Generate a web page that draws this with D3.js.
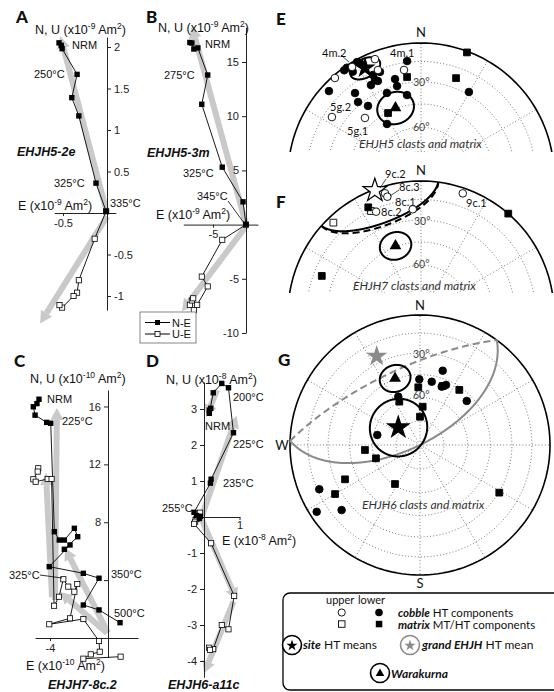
<!DOCTYPE html>
<html><head><meta charset="utf-8">
<script src="https://cdnjs.cloudflare.com/ajax/libs/d3/7.8.5/d3.min.js"></script>
<style>body{margin:0;background:#fff}svg{display:block}</style>
</head><body>
<script>
// ================= DATA =================
// Zijderveld diagrams: [E, N] for N-E (filled), [E, U] for U-E (open)
const aNE = [[-0.545,2.05],[-0.52,2.02],[-0.51,1.98],[-0.34,1.67],[-0.40,1.39],[-0.32,1.17],[-0.125,0.36],[-0.01,0.02]];
const aUE = [[-0.01,0.02],[-0.14,-0.31],[-0.32,-0.81],[-0.34,-0.96],[-0.38,-1.0],[-0.51,-1.14],[-0.54,-1.11]];
const aFits = [[[0,0],[-0.53,2.13]],[[0,-0.04],[-0.76,-1.33]]];
const aYTicks = [2,1.5,1,0.5,-0.5,-1], aXTicks = [-0.5];

const bNE = [[-8.5,16.8],[-8.2,16.75],[-7.9,16.2],[-7.3,16.3],[-5.8,13.8],[-6.7,11.1],[-3.6,5.3],[-0.45,2.1],[0,0]];
const bUE = [[0,0],[-3.6,-1.4],[-6.7,-4.8],[-5.8,-5.7],[-7.4,-7.4],[-7.9,-7.9],[-8.5,-7.4],[-8.2,-7.0],[-8.0,-6.8]];
const bFits = [[[0,0],[-8.2,18.3]],[[0,-0.15],[-9.7,-8.0]]];
const bYTicks = [15,10,5,-5,-10], bXTicks = [-5];

const cNE = [[-4.76,16.5],[-4.9,16.2],[-5.15,15.98],[-5.03,15.4],[-4.23,14.9],[-3.95,14.84],
  [-3.70,7.35],[-3.36,6.77],[-3.01,6.77],[-2.32,7.58],[-2.09,7.0],[-3.01,6.13],[-2.62,6.43],
  [-4.05,4.93],[-1.70,4.47],[-0.62,4.13],[-1.70,2.28],[-0.62,1.94],[0.83,1.06]];
const cUE = [[-4.81,11.73],[-4.85,11.5],[-5.15,10.97],[-4.99,10.8],[-4.16,10.99],[-3.89,10.99],
  [-3.72,2.23],[-3.38,2.85],[-3.08,4.06],[-2.74,3.55],[-2.32,3.20],[-2.12,3.73],[-2.62,1.36],
  [-4.05,0.95],[-1.70,1.31],[-0.62,-0.21],[-0.57,-0.95],[-1.19,-1.13],[-1.70,-1.43],[0.87,-1.29]];
const cFits = [[[-3.66,2.63],[-3.52,15.9]],[[-3.86,2.83],[-4.28,11.4]],[[0,0.35],[-2.97,6.22]],[[-0.07,0.35],[-3.31,3.18]]];
const cYTicks = [16,12,8,4], cXTicks = [-4];

const dNE = [[0.15,2.97],[0.19,3.02],[0.15,2.88],[0.26,3.45],[0.50,3.71],[0.69,3.59],[0.83,2.34],
  [0.20,1.05],[0.18,0.94],[-0.28,0.13],[-0.21,0.04],[-0.13,-0.04],[-0.10,0.02]];
const dUE = [[-0.11,0.12],[-0.21,-0.06],[-0.25,-0.13],[-0.28,-0.19],[0.20,-0.73],[0.85,-2.19],
  [0.69,-3.12],[0.50,-3.0],[0.26,-3.67],[0.14,-3.63],[0.17,-3.69]];
const dFits = [[[0.37,3.53],[0.06,2.78]],[[-0.065,0.01],[0.92,2.81]],[[-0.065,-0.06],[0.92,-2.31]],[[0.83,-2.35],[0,-4.34]]];
const dYTicks = [3,2,1,-1,-2,-3,-4], dXTicks = [1];

// Stereonets: [declination, inclination] (negative inclination = upper hemisphere)
const eCobble = [[330.7,2],[325.6,1.5],[324,2],[326.8,7],[334.6,17],[338.5,17],[334.4,21],[331.2,23],
  [345,25.5],[345.1,30.7],[353.1,14],[312.7,6.5],[321.5,21.4],[319.6,27.8],[322.9,34.3],[337.7,33],
  [350.2,38.2],[326.8,51.4],[29.7,28.1],[331.6,4],[335.6,22.6],
  [318.7,-2.2],[303.5,-20.8],[316,-39.2],[350.9,-20.4],[338.5,-6.2],[327.7,-3.4],[337.9,-15.1]];
const eMatrix = [[20.4,1],[19.7,22.9],[352,25.8],[332.4,45.6]];
const eSite = [332.6,9.4,7.5];        // D, I, a95
const eWarakurna = [339.5,44.4,10.5];

const fCobble = [[343.4,-5.9],[344,-9.1],[355.5,-22.1],[19.1,-4.5],[336.3,-17.1]];
const fMatrix = [[316.2,-5.4],[334.1,-15],[333.7,11.5],[41,0],[291,21.2]];
const fSite = [339.5,-1,28];
const fWarakurna = [339.5,44.4,9];

const gCobble = [[17,40],[359.4,48.1],[10.5,49],[20.4,50.4],[23.4,48.3],[46.7,49.1],[335.8,56.5],
  [283.2,62.4],[246.3,16.5],[237.1,6],[230.3,22.7]];
const gMatrix = [[358.3,53.4],[21,49.8],[35.5,46.8],[334.5,59.7],[4,65.9],[0,72.3],[264.8,55],
  [253.2,61],[245.4,36.7],[240,25.5],[212.7,60.8],[121,29.6]];
const gSite = [309,72.5,18];
const gGrand = [334,25,65];
const gWarakurna = [339.5,44.4,9];

const ringIncs = [15,30,45,60,75];
const radialDecs = d3.range(0,360,30);

// ================= DRAWING =================
const ZF = "'Liberation Sans', Arial, sans-serif";
const SF = "Lato, 'Open Sans', sans-serif";
const svg = d3.select("body").append("svg").attr("width",554).attr("height",692);
const defs = svg.append("defs");

function label(g, x, y, parts, size, fam, opts={}) {
  const t = g.append("text").attr("x",x).attr("y",y).attr("font-size",size)
    .attr("font-family",fam).attr("fill",opts.fill||"#111");
  if (opts.anchor) t.attr("text-anchor",opts.anchor);
  if (opts.weight) t.attr("font-weight",opts.weight);
  if (opts.style) t.attr("font-style",opts.style);
  let sup=false;
  parts.forEach(p=>{
    const [s,kind] = Array.isArray(p)?p:[p,""];
    const ts = t.append("tspan").text(s);
    if (kind==="sup") { ts.attr("font-size",size*0.68); if(!sup){ts.attr("dy",-size*0.4); sup=true;} }
    else { if(sup){ts.attr("dy",size*0.4); sup=false;} }
    if (kind==="bi") ts.attr("font-weight","bold").attr("font-style","italic");
  });
  return t;
}

function zij(c) {
  const g = svg.append("g");
  const x = d3.scaleLinear().domain(c.xDom).range(c.xDom.map(v=>c.ox+c.sx*v));
  const y = d3.scaleLinear().domain(c.yDom).range(c.yDom.map(v=>c.oy-c.sy*v));
  c.fits.forEach(([p,q])=>{
    const x0=x(p[0]),y0=y(p[1]),x1=x(q[0]),y1=y(q[1]);
    const L=Math.hypot(x1-x0,y1-y0), ux=(x1-x0)/L, uy=(y1-y0)/L;
    const hl=12, hw=6.5, bx=x1-ux*hl, by=y1-uy*hl;
    g.append("line").attr("x1",x0).attr("y1",y0).attr("x2",bx).attr("y2",by)
      .attr("stroke","#c9c9c9").attr("stroke-width",6);
    g.append("path").attr("d",`M${x1},${y1}L${bx-uy*hw},${by+ux*hw}L${bx+uy*hw},${by-ux*hw}Z`).attr("fill","#c9c9c9");
  });
  const ya = (c.side==="right"?d3.axisRight(y):d3.axisLeft(y)).tickValues(c.yTicks).tickSize(4).tickSizeOuter(0)
    .tickFormat(c.yFmt||(d=>String(d)));
  g.append("g").attr("transform",`translate(${x(0)},0)`).call(ya);
  g.append("g").attr("transform",`translate(0,${y(0)})`).call(d3.axisBottom(x).tickValues(c.xTicks).tickSize(3).tickSizeOuter(0).tickPadding(c.xPad||3).tickFormat(d=>String(d)));
  g.selectAll(".tick text").attr("font-family",ZF).attr("font-size",11).attr("fill","#222");
  g.selectAll(".domain,.tick line").attr("stroke","#222").attr("stroke-width",1);
  const line = d3.line().x(d=>x(d[0])).y(d=>y(d[1]));
  [c.ue,c.ne].forEach(pts=>g.append("path").attr("d",line(pts)).attr("fill","none").attr("stroke","#000").attr("stroke-width",0.9));
  g.selectAll(null).data(c.ue).join("rect").attr("x",d=>x(d[0])-2.6).attr("y",d=>y(d[1])-2.6)
    .attr("width",5.2).attr("height",5.2).attr("fill","#fff").attr("stroke","#000").attr("stroke-width",0.8);
  g.selectAll(null).data(c.ne).join("rect").attr("x",d=>x(d[0])-2.7).attr("y",d=>y(d[1])-2.7)
    .attr("width",5.4).attr("height",5.4).attr("fill","#000");
  return g;
}

// Panel A
const gA = zij({ox:107,oy:213,sx:88,sy:83,xDom:[-0.6,0.1],yDom:[-1.17,2.12],side:"right",
  yTicks:aYTicks,xTicks:aXTicks,ne:aNE,ue:aUE,fits:aFits});
label(gA,35,34,["N, U (x10",["-9","sup"]," Am",["2","sup"],")"],12.5,ZF);
label(gA,18,210,["E (x10",["-9","sup"]," Am",["2","sup"],")"],12.5,ZF);
label(gA,72,49,["NRM"],11,ZF);
label(gA,34,78,["250°C"],11,ZF);
label(gA,54,187,["325°C"],11,ZF);
label(gA,110,207,["335°C"],11,ZF);
label(gA,17,156,["EHJH5-2e"],12.5,ZF,{weight:"bold",style:"italic"});

// Panel B
const gB = zij({ox:246,oy:224.6,sx:6.6,sy:10.84,xDom:[-9.5,1.8],yDom:[-10,18.2],side:"left",
  yTicks:bYTicks,xTicks:bXTicks,ne:bNE,ue:bUE,fits:bFits});
label(gB,158,32,["N, U (x10",["-9","sup"]," Am",["2","sup"],")"],12.5,ZF);
label(gB,156,219,["E (x10",["-9","sup"]," Am",["2","sup"],")"],12.5,ZF);
label(gB,205,48,["NRM"],11,ZF);
label(gB,164,79,["275°C"],11,ZF);
label(gB,183,177,["325°C"],11,ZF);
label(gB,197,200,["345°C"],11,ZF);
gB.append("line").attr("x1",228).attr("y1",201).attr("x2",244).attr("y2",223).attr("stroke","#000").attr("stroke-width",0.8);
label(gB,147,157,["EHJH5-3m"],12.5,ZF,{weight:"bold",style:"italic"});
// legend
gB.append("rect").attr("x",140).attr("y",312).attr("width",56).attr("height",31).attr("fill","#fff").attr("stroke","#666").attr("stroke-width",0.8);
gB.append("line").attr("x1",145).attr("x2",170).attr("y1",322.5).attr("y2",322.5).attr("stroke","#000");
gB.append("rect").attr("x",155).attr("y",320).attr("width",5).attr("height",5).attr("fill","#000");
gB.append("line").attr("x1",145).attr("x2",170).attr("y1",334).attr("y2",334).attr("stroke","#000");
gB.append("rect").attr("x",155).attr("y",331.5).attr("width",5).attr("height",5).attr("fill","#fff").attr("stroke","#000").attr("stroke-width",0.8);
label(gB,172,326.5,["N-E"],11,ZF);
label(gB,172,338,["U-E"],11,ZF);

// Panel C
const gC = zij({ox:108,oy:638,sx:14.5,sy:14.47,xDom:[-5.03,2.07],yDom:[-1.35,17.14],side:"left",
  yTicks:cYTicks,xTicks:cXTicks,ne:cNE,ue:cUE,fits:cFits,yFmt:d=>d===4?"":String(d)});
label(gC,30,383,["N, U (x10",["-10","sup"]," Am",["2","sup"],")"],12.5,ZF);
label(gC,26,670,["E (x10",["-10","sup"]," Am",["2","sup"],")"],12.5,ZF);
label(gC,47,403,["NRM"],11,ZF);
label(gC,62,425,["225°C"],11,ZF);
label(gC,9,579,["325°C"],11,ZF);
gC.append("line").attr("x1",40).attr("y1",575).attr("x2",62).attr("y2",578).attr("stroke","#000").attr("stroke-width",0.8);
label(gC,111,578,["350°C"],11,ZF);
label(gC,114,617,["500°C"],11,ZF);
label(gC,48,689,["EHJH7-8c.2"],12.5,ZF,{weight:"bold",style:"italic"});

// Panel D
const gD = zij({ox:204,oy:517,sx:35.5,sy:36,xDom:[-0.34,1.01],yDom:[-4.45,3.75],side:"left",
  yTicks:dYTicks,xTicks:dXTicks,ne:dNE,ue:dUE,fits:dFits,xPad:1});
label(gD,166,384,["N, U (x10",["-8","sup"]," Am",["2","sup"],")"],12.5,ZF);
label(gD,222,545,["E (x10",["-8","sup"]," Am",["2","sup"],")"],12.5,ZF);
label(gD,233,401,["200°C"],11,ZF);
label(gD,205,430,["NRM"],11,ZF);
label(gD,233,448,["225°C"],11,ZF);
label(gD,223,487,["235°C"],11,ZF);
label(gD,162,512,["255°C"],11,ZF);
label(gD,168,689,["EHJH6-a11c"],12.5,ZF,{weight:"bold",style:"italic"});

// Panel letters
[["A",16,23],["B",146,23],["C",14,367],["D",146,367],["E",276,25],["F",276,208],["G",278,366]]
  .forEach(([t,x,y])=>label(svg,x,y,[t],17,SF,{weight:"900"}));

// ---------- Stereonets ----------
let clipId=0;
function net(c) {
  const g = svg.append("g");
  let body = g.append("g");
  if (c.clip) {
    const id = "clip"+(clipId++);
    defs.append("clipPath").attr("id",id).append("rect").attr("x",c.clip[0]).attr("y",c.clip[1]).attr("width",c.clip[2]).attr("height",c.clip[3]);
    body.attr("clip-path",`url(#${id})`);
  }
  const proj = d3.geoAzimuthalEqualArea().rotate([0,-90]).scale(c.R/Math.SQRT2)
    .translate([c.cx,c.cy]).clipAngle(90).precision(0.1);
  const path = d3.geoPath(proj);
  const P = (D,I)=>proj([180-D, Math.abs(I)]);
  const dot = s=>s.attr("fill","none").attr("stroke","#6a6a6a").attr("stroke-width",0.9).attr("stroke-dasharray","1,2.2");
  ringIncs.forEach(inc=>body.append("path").attr("d",path(d3.geoCircle().center([0,90]).radius(90-inc).precision(1)())).call(dot));
  radialDecs.forEach(D=>{const a=P(D,90),b=P(D,0); body.append("line").attr("x1",a[0]).attr("y1",a[1]).attr("x2",b[0]).attr("y2",b[1]).call(dot);});
  body.append("path").attr("d",path({type:"Sphere"})).attr("fill","none").attr("stroke","#000").attr("stroke-width",1.6);

  function cone(m, color, width) {
    const ring = d3.geoCircle().center([180-m[0], m[1]]).radius(m[2]).precision(0.5)().coordinates[0];
    const runs=[]; let cur=null;
    for (let i=0;i<ring.length;i++){
      const [lon,lat]=ring[i]; const up = lat<0;
      if (cur && cur.up!==up) {
        const [plon,plat]=ring[i-1]; const t=plat/(plat-lat);
        const cp=proj([plon+(lon-plon)*t,0]); cur.pts.push(cp); runs.push(cur); cur={up,pts:[cp]};
      }
      if(!cur) cur={up,pts:[]};
      cur.pts.push(proj([lon,Math.abs(lat)]));
    }
    runs.push(cur);
    if (runs.length>1 && runs[0].up===runs[runs.length-1].up){ const last=runs.pop(); runs[0].pts=last.pts.concat(runs[0].pts);}
    const ln=d3.line();
    runs.forEach(r=>body.append("path").attr("d",ln(r.pts)).attr("fill","none").attr("stroke",color)
      .attr("stroke-width",width).attr("stroke-dasharray",r.up?"7,4":null));
  }
  if (c.grand) cone(c.grand,"#8a8a8a",2);
  cone(c.warakurna,"#000",2);
  cone(c.site,"#000",2);
  const sym = (type,size)=>d3.symbol(type,size)();
  body.selectAll(null).data(c.matrix).join("path").attr("d",sym(d3.symbolSquare,46))
    .attr("transform",d=>`translate(${P(d[0],d[1])})`).attr("fill",d=>d[1]<0?"#fff":"#000").attr("stroke","#000").attr("stroke-width",0.9);
  body.selectAll(null).data(c.cobble).join("circle").attr("r",3.8)
    .attr("transform",d=>`translate(${P(d[0],d[1])})`).attr("fill",d=>d[1]<0?"#fff":"#000").attr("stroke","#000").attr("stroke-width",0.9);
  body.append("path").attr("d",sym(d3.symbolTriangle,60)).attr("transform",`translate(${P(c.warakurna[0],c.warakurna[1])})`).attr("fill","#000");
  if (c.grand) body.append("path").attr("d",sym(d3.symbolStar,c.starSize)).attr("transform",`translate(${P(c.grand[0],c.grand[1])})`).attr("fill","#8a8a8a");
  body.append("path").attr("d",sym(d3.symbolStar,c.starSize)).attr("transform",`translate(${P(c.site[0],c.site[1])})`)
    .attr("fill",c.site[1]<0?"#fff":"#000").attr("stroke","#000").attr("stroke-width",1.2).attr("stroke-linejoin","miter");
  return g;
}

const gE = net({cx:421,cy:176,R:133,clip:[270,0,284,152],cobble:eCobble,matrix:eMatrix,site:eSite,warakurna:eWarakurna,starSize:95});
label(gE,421,37,["N"],13,SF,{anchor:"middle"});
label(gE,322,57,["4m.2"],11,SF);
gE.append("line").attr("x1",341).attr("y1",55).attr("x2",349).attr("y2",62).attr("stroke","#000").attr("stroke-width",0.7);
label(gE,390,57,["4m.1"],11,SF);
label(gE,330,111,["5g.2"],11,SF);
label(gE,347,135,["5g.1"],11,SF);
label(gE,413,86,["30°"],10.5,SF,{fill:"#444"});
label(gE,413,131,["60°"],10.5,SF,{fill:"#444"});
label(gE,359,148,["EHJH5 clasts and matrix"],12,SF,{style:"italic",fill:"#333"});

const gF = net({cx:421,cy:314,R:133,clip:[270,160,284,133],cobble:fCobble,matrix:fMatrix,site:fSite,warakurna:fWarakurna,starSize:170});
label(gF,421,175,["N"],13,SF,{anchor:"middle"});
label(gF,385,178,["9c.2"],11,SF);
gF.append("line").attr("x1",386).attr("y1",179).attr("x2",380).attr("y2",188).attr("stroke","#000").attr("stroke-width",0.7);
label(gF,399,191,["8c.3"],11,SF);
gF.append("line").attr("x1",399).attr("y1",190).attr("x2",390).attr("y2",196).attr("stroke","#000").attr("stroke-width",0.7);
label(gF,395,206,["8c.1"],11,SF);
label(gF,381,216,["8c.2"],11,SF);
label(gF,466,207,["9c.1"],11,SF);
label(gF,414,225,["30°"],10.5,SF,{fill:"#444"});
label(gF,413,268,["60°"],10.5,SF,{fill:"#444"});
label(gF,353,290,["EHJH7 clasts and matrix"],12,SF,{style:"italic",fill:"#333"});

const gG = net({cx:420,cy:445,R:130,cobble:gCobble,matrix:gMatrix,site:gSite,warakurna:gWarakurna,grand:gGrand,starSize:140});
label(gG,420,310,["N"],13,SF,{anchor:"middle"});
label(gG,282,450,["W"],13,SF,{anchor:"middle"});
label(gG,420,588,["S"],13,SF,{anchor:"middle"});
label(gG,413,358,["30°"],10.5,SF,{fill:"#444"});
label(gG,413,399,["60°"],10.5,SF,{fill:"#444"});
label(gG,362,509,["EHJH6 clasts and matrix"],12,SF,{style:"italic",fill:"#333"});

// ---------- Legend (G) ----------
const lg = svg.append("g");
lg.append("rect").attr("x",283).attr("y",593).attr("width",300).attr("height",97).attr("rx",7).attr("fill","#fff").attr("stroke","#000").attr("stroke-width",1.3);
label(lg,326,604,["upper"],11,SF);
label(lg,358,604,["lower"],11,SF);
lg.append("circle").attr("cx",341.7).attr("cy",612.5).attr("r",3.6).attr("fill","#fff").attr("stroke","#000").attr("stroke-width",0.9);
lg.append("circle").attr("cx",379).attr("cy",612.5).attr("r",3.8).attr("fill","#000");
lg.append("rect").attr("x",338.5).attr("y",620.8).attr("width",6.5).attr("height",6.5).attr("fill","#fff").attr("stroke","#000").attr("stroke-width",0.9);
lg.append("rect").attr("x",375.8).attr("y",620.8).attr("width",6.5).attr("height",6.5).attr("fill","#000");
label(lg,398,616.5,[["cobble","bi"]," HT components"],11.5,SF);
label(lg,398,628.5,[["matrix","bi"]," MT/HT components"],11.5,SF);
lg.append("circle").attr("cx",292).attr("cy",645).attr("r",9.5).attr("fill","#fff").attr("stroke","#000").attr("stroke-width",1.6);
lg.append("path").attr("d",d3.symbol(d3.symbolStar,40)()).attr("transform","translate(292,645.5)").attr("fill","#000");
label(lg,303,649,[["site","bi"]," HT means"],12,SF);
lg.append("circle").attr("cx",410).attr("cy",645).attr("r",9.5).attr("fill","#fff").attr("stroke","#8a8a8a").attr("stroke-width",1.6);
lg.append("path").attr("d",d3.symbol(d3.symbolStar,40)()).attr("transform","translate(410,645.5)").attr("fill","#8a8a8a");
label(lg,422,649,[["grand EHJH","bi"],"  HT mean"],12,SF);
lg.append("circle").attr("cx",380).attr("cy",673).attr("r",9.5).attr("fill","#fff").attr("stroke","#000").attr("stroke-width",1.6);
lg.append("path").attr("d",d3.symbol(d3.symbolTriangle,32)()).attr("transform","translate(380,673.5)").attr("fill","#000");
label(lg,391,678,[["Warakurna","bi"]],12,SF);
</script>
</body></html>
